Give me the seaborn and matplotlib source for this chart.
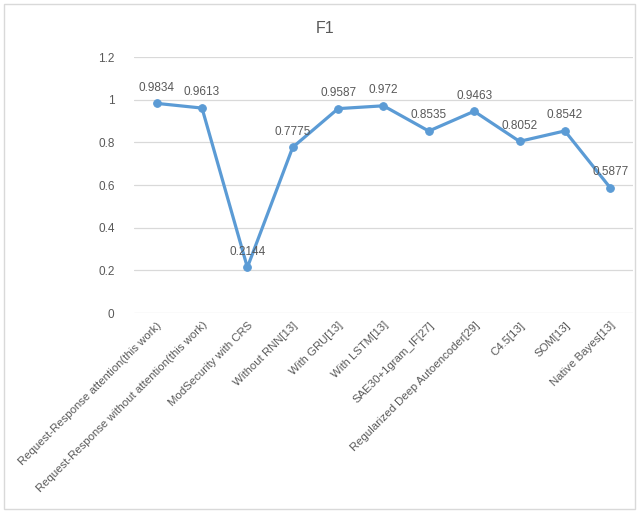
import matplotlib
matplotlib.use('Agg')
import matplotlib.pyplot as plt
from matplotlib.patches import Rectangle
from matplotlib.ticker import FuncFormatter
import pandas as pd
import seaborn as sns

methods = [
    'Request-Response attention(this work)',
    'Request-Response without attention(this work)',
    'ModSecurity with CRS',
    'Without RNN[13]',
    'With GRU[13]',
    'With LSTM[13]',
    'SAE30+1gram_IF[27]',
    'Regularized Deep Autoencoder[29]',
    'C4.5[13]',
    'SOM[13]',
    'Native Bayes[13]',
]
f1_scores = [0.9834, 0.9613, 0.2144, 0.7775, 0.9587, 0.972, 0.8535, 0.9463, 0.8052, 0.8542, 0.5877]
y_ticks = [0, 0.2, 0.4, 0.6, 0.8, 1.0, 1.2]

df = pd.DataFrame({'method': methods, 'f1': f1_scores})

sns.set_style('white')
plt.rcParams['font.family'] = ['Liberation Sans', 'DejaVu Sans']
text_gray = '#595959'
line_blue = '#5B9BD5'

fig = plt.figure(figsize=(6.38, 5.15), dpi=100)
ax = fig.add_axes([0.21, 0.392, 0.782, 0.497])

sns.lineplot(data=df, x='method', y='f1', ax=ax, sort=False,
             color=line_blue, linewidth=2.3, marker='o', markersize=5.5,
             markeredgecolor=line_blue)

# value labels above points
for i, v in enumerate(f1_scores):
    ax.annotate(f'{v:g}', (i, v), xytext=(0, 7), textcoords='offset points',
                ha='center', va='bottom', fontsize=8.5, color=text_gray)

ax.set_xlim(-0.5, len(methods) - 0.5)
ax.set_ylim(0, 1.2)
ax.set_yticks(y_ticks)
ax.yaxis.set_major_formatter(FuncFormatter(lambda v, p: f'{v:g}'))
ax.grid(axis='y', color='#d9d9d9', linewidth=0.9)
ax.set_axisbelow(True)
for s in ax.spines.values():
    s.set_visible(False)

ax.tick_params(axis='y', length=0, pad=14, labelsize=8.5, labelcolor=text_gray)
ax.tick_params(axis='x', length=0, pad=5, labelsize=8.2, labelcolor=text_gray)
plt.setp(ax.get_xticklabels(), rotation=45, ha='right', rotation_mode='anchor')
ax.set_xlabel('')
ax.set_ylabel('')

fig.text(0.51, 0.945, 'F1', ha='center', va='center', fontsize=11.5, color=text_gray)

# chart border
fig.patches.append(Rectangle((0.006, 0.012), 0.99, 0.98, transform=fig.transFigure,
                             fill=False, edgecolor='#d9d9d9', linewidth=1))

fig.savefig('out.png', dpi=100)
